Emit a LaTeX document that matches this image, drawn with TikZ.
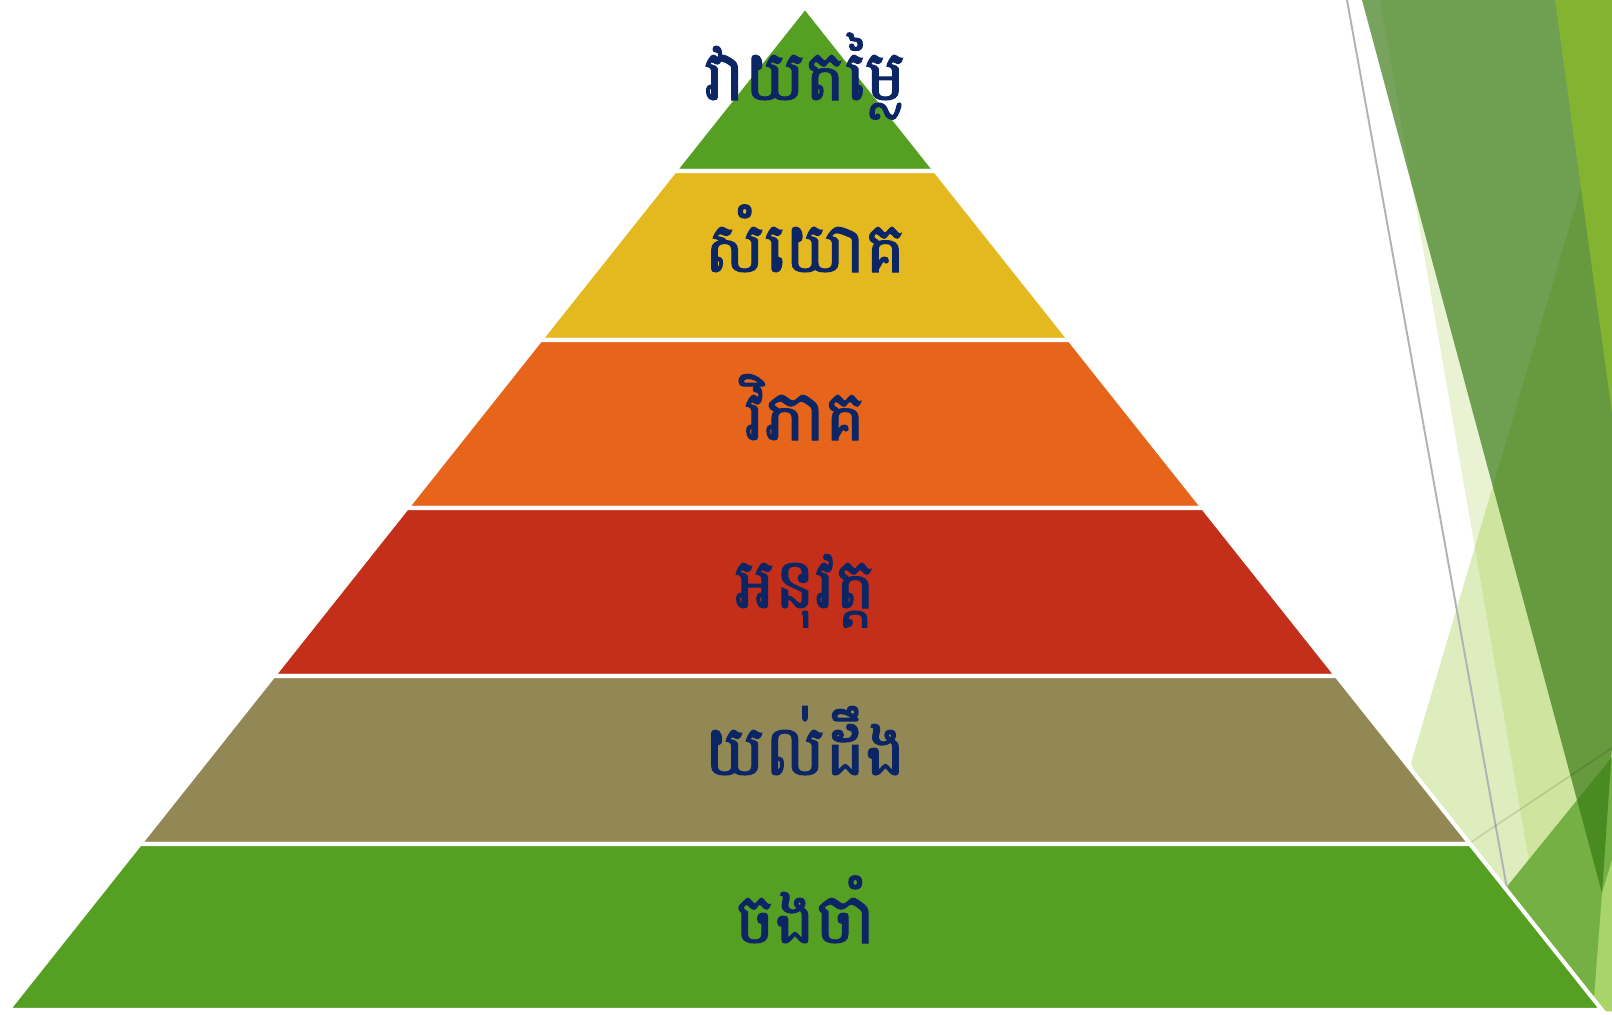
\documentclass[tikz,border=0pt]{standalone}
\usepackage{fontspec}
\newfontfamily\khmerfont[Script=Khmer,FakeStretch=0.96,FakeBold=1.5]{Battambang}
\definecolor{facetgreen}{HTML}{90C226}
\definecolor{facetdark}{HTML}{367812}
\definecolor{facetlime}{HTML}{84B332}
\definecolor{facetleaf}{HTML}{74B043}
\definecolor{facetpale}{HTML}{A8D46A}
\definecolor{tiergreen}{HTML}{55A022}
\definecolor{tieryellow}{HTML}{E4B91F}
\definecolor{tierorange}{HTML}{E6651A}
\definecolor{tierred}{HTML}{C42F1A}
\definecolor{tierolive}{HTML}{928855}
\definecolor{inkblue}{HTML}{0B2565}

\begin{document}
\begin{tikzpicture}[x=0.02cm,y=-0.02cm,
tier/.style={draw=white,line width=2.3pt},
word/.style={anchor=base,text=inkblue,
	font=\khmerfont\fontsize{40}{44}\selectfont},
facet/.style={fill=facetgreen},
]
\useasboundingbox (0,0) rectangle (1612,1014);
% facets of the slide background
\fill[facet,fill opacity=0.2] (1380,0) -- (1612,0) -- (1612,1011) -- (1555,1011) -- cycle;
\fill[facet,fill opacity=0.3] (1612,83) -- (1411,763) -- (1500,1011) -- (1612,1011) -- cycle;
\fill[facetleaf] (1612,757) -- (1406,1011) -- (1612,1011) -- cycle;
\fill[facetdark,fill opacity=0.68] (1362,0) -- (1612,0) -- (1612,747) -- (1602,893) -- cycle;
\fill[facetlime] (1555,0) -- (1612,0) -- (1612,413) -- cycle;
\fill[facetpale] (1593,1011) -- (1602,893) -- (1612,860) -- (1612,1011) -- cycle;
\draw[black!30,line width=1.1pt] (1347,0) -- (1529,1011);
\draw[black,opacity=0.12,line width=0.9pt] (1612,748) -- (1380,903);
% \draw[red] (805,7) -- (8,1010) -- (1602,1010) -- cycle;
\foreach \ya/\yb/\col in {7/171/tiergreen,171/340/tieryellow,340/508/tierorange,
	508/676/tierred,676/844/tierolive,844/1010/tiergreen}
\filldraw[tier,fill=\col] ({805-0.7946*(\ya-7)},\ya) -- ({805+0.7946*(\ya-7)},\ya)
	-- ({805+0.7946*(\yb-7)},\yb) -- ({805-0.7946*(\yb-7)},\yb) -- cycle;
\node[word] (evaluate) at (805,100) {វាយតម្លៃ};
\node[word] (synthesis) at (805,272) {សំយោគ};
\node[word] (analysis) at (805,440) {វិភាគ};
\node[word] (apply) at (805,608) {អនុវត្ត};
\node[word] (understand) at (805,775) {យល់ដឹង};
\node[word] (remember) at (805,943) {ចងចាំ};
\end{tikzpicture}
\end{document}
